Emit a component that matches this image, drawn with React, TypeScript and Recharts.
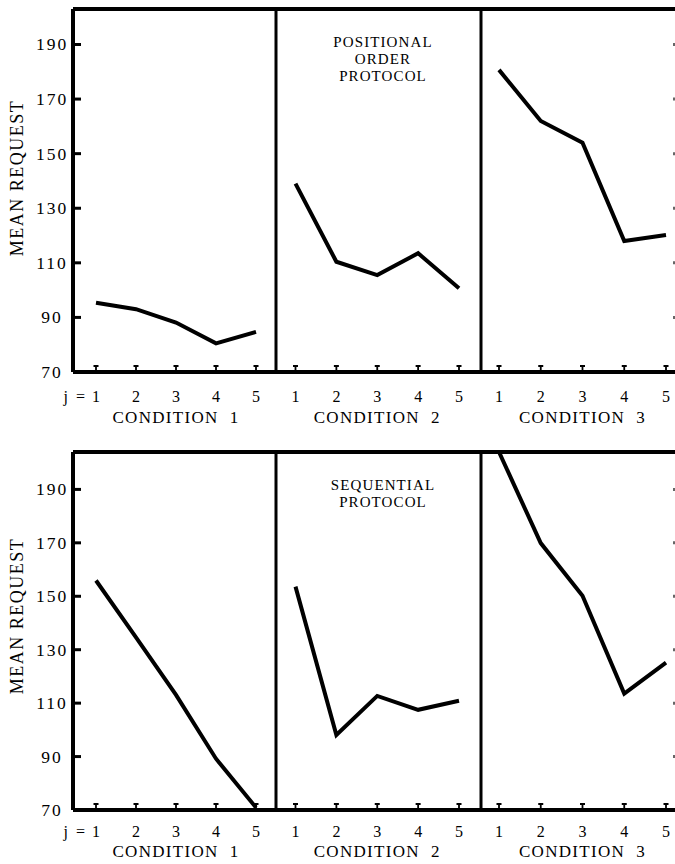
import React from 'react';
import { LineChart, Line, XAxis, YAxis } from 'recharts';

// ---- data ----
const J = [1, 2, 3, 4, 5];
const yTicks = [70, 90, 110, 130, 150, 170, 190];
const rightTicks = [90, 110, 130, 150, 170, 190];
const conditionLabels = ['CONDITION  1', 'CONDITION  2', 'CONDITION  3'];

const positionalC1 = [95.4, 93.0, 88.1, 80.5, 84.7];
const positionalC2 = [139.0, 110.4, 105.5, 113.5, 100.7];
const positionalC3 = [180.7, 162.0, 154.0, 118.0, 120.2];

const sequentialC1 = [155.9, 134.6, 113.1, 89.2, 70.9];
const sequentialC2 = [153.6, 98.1, 112.7, 107.5, 110.9];
const sequentialC3 = [204, 169.9, 150.2, 113.6, 125.2];

const positionalTitle = ['POSITIONAL', 'ORDER', 'PROTOCOL'];
const sequentialTitle = ['SEQUENTIAL', 'PROTOCOL'];
const yAxisTitle = 'MEAN REQUEST';

const FONT = '"Liberation Serif", "Times New Roman", serif';

type PanelProps = {
  values: number[];
  domainTop: number;
  plotTop: number;
  plotHeight: number;
  plotLeft: number;
  plotWidth: number;
  first?: boolean;
  last?: boolean;
  condLabel: string;
  tickDy: number;
  condDy: number;
  padL: number;
  padR: number;
};

const XTick = (props: any) => {
  const { x, y, payload, showJ, condLabel, condDy, tickDy } = props;
  return (
    <g>
      <path
        d={`M${x},${y - 2} L${x},${y - 6} M${x - 2.5},${y - 6} L${x + 2.5},${y - 6}`}
        stroke="#000"
        strokeWidth={1.8}
        fill="none"
      />
      <text x={x} y={y + tickDy} textAnchor="middle" fontFamily={FONT} fontSize={16} fill="#000">
        {payload.value}
      </text>
      {showJ && payload.value === 1 ? (
        <text x={x - 11} y={y + tickDy} textAnchor="end" fontFamily={FONT} fontSize={16} fill="#000" style={{ whiteSpace: 'pre' }}>
          {'j  ='}
        </text>
      ) : null}
      {payload.value === 3 ? (
        <text
          x={x}
          y={y + condDy}
          textAnchor="middle"
          fontFamily={FONT}
          fontSize={17}
          letterSpacing={1.3}
          fill="#000"
          style={{ whiteSpace: 'pre' }}
        >
          {condLabel}
        </text>
      ) : null}
    </g>
  );
};

const YTickLeft = (props: any) => {
  const { x, y, payload } = props;
  return (
    <g>
      {payload.value !== 70 ? (
        <line x1={x} y1={y} x2={x + 8} y2={y} stroke="#000" strokeWidth={3} />
      ) : null}
      <text x={x - 21} y={y + 6} textAnchor="middle" fontFamily={FONT} fontSize={17.5} letterSpacing={2} fill="#000">
        {payload.value}
      </text>
    </g>
  );
};

const YTickRight = (props: any) => {
  const { x, y } = props;
  return <line x1={x - 12} y1={y - 1.5} x2={x - 12} y2={y + 1.5} stroke="#333" strokeWidth={1.5} />;
};

function Panel(p: PanelProps) {
  const mTop = 8;
  const topAxisH = 1;
  const xAxisH = 60;
  const mL = p.first ? 0 : 5;
  const mR = p.last ? 5 : 0;
  const yW = p.first ? p.plotLeft : 1;
  const rW = p.last ? 1 : 0;
  const chartLeft = p.first ? 0 : p.plotLeft - mL - yW;
  const width = mL + yW + p.plotWidth + rW + mR;
  const height = mTop + topAxisH + p.plotHeight + xAxisH;
  const data = J.map((j, i) => ({ j, v: p.values[i] }));
  const domain: [number, number] = [70, p.domainTop];
  return (
    <div style={{ position: 'absolute', left: chartLeft, top: p.plotTop - mTop - topAxisH }}>
      <LineChart width={width} height={height} data={data} margin={{ top: mTop, right: mR, bottom: 0, left: mL }}>
        <XAxis
          dataKey="j"
          type="number"
          domain={[1, 5]}
          ticks={J}
          interval={0}
          padding={{ left: p.padL, right: p.padR }}
          height={xAxisH}
          axisLine={{ stroke: '#000', strokeWidth: 4 }}
          tickLine={false}
          tickSize={0}
          tickMargin={0}
          tick={<XTick showJ={p.first} condLabel={p.condLabel} condDy={p.condDy} tickDy={p.tickDy} />}
        />
        <XAxis
          xAxisId="top"
          orientation="top"
          dataKey="j"
          type="number"
          domain={[1, 5]}
          height={topAxisH}
          tick={false}
          tickLine={false}
          axisLine={{ stroke: '#000', strokeWidth: 4 }}
        />
        <YAxis
          type="number"
          domain={domain}
          ticks={yTicks}
          interval={0}
          width={yW}
          axisLine={{ stroke: '#000', strokeWidth: p.first ? 4 : 3 }}
          tickLine={false}
          tickSize={0}
          tickMargin={0}
          tick={p.first ? <YTickLeft /> : false}
          allowDataOverflow
        />
        {p.last ? (
          <YAxis
            yAxisId="r"
            orientation="right"
            type="number"
            domain={domain}
            ticks={rightTicks}
            interval={0}
            width={rW}
            axisLine={false}
            tickLine={false}
            tickSize={0}
            tickMargin={0}
            tick={<YTickRight />}
            allowDataOverflow
          />
        ) : null}
        <Line
          type="linear"
          dataKey="v"
          stroke="#000"
          strokeWidth={4}
          dot={false}
          isAnimationActive={false}
          strokeLinejoin="miter"
        />
      </LineChart>
    </div>
  );
}

function Row(props: {
  series: number[][];
  plotTop: number;
  plotHeight: number;
  domainTop: number;
  tickDy: number;
  condDy: number;
}) {
  const lefts = [73, 276, 481];
  const widths = [203, 205, 205];
  const pads = [
    [23, 20],
    [19.5, 22],
    [18, 20],
  ];
  return (
    <>
      {props.series.map((vals, i) => (
        <Panel
          key={i}
          values={vals}
          domainTop={props.domainTop}
          plotTop={props.plotTop}
          plotHeight={props.plotHeight}
          plotLeft={lefts[i]}
          plotWidth={widths[i]}
          first={i === 0}
          last={i === 2}
          condLabel={conditionLabels[i]}
          tickDy={props.tickDy}
          condDy={props.condDy}
          padL={pads[i][0]}
          padR={pads[i][1]}
        />
      ))}
    </>
  );
}

export default function App() {
  return (
    <div
      style={{
        position: 'absolute',
        left: 0,
        top: 0,
        width: 675,
        height: 864,
        overflow: 'hidden',
        background: '#fff',
      }}
    >
      <Row
        series={[positionalC1, positionalC2, positionalC3]}
        plotTop={9}
        plotHeight={363}
        domainTop={203}
        tickDy={30}
        condDy={51}
      />
      <Row
        series={[sequentialC1, sequentialC2, sequentialC3]}
        plotTop={452}
        plotHeight={358}
        domainTop={204}
        tickDy={27}
        condDy={47}
      />
      <svg width={675} height={864} style={{ position: 'absolute', left: 0, top: 0, pointerEvents: 'none' }}>
        <text
          transform="translate(23,178) rotate(-90)"
          textAnchor="middle"
          fontFamily={FONT}
          fontSize={18}
          letterSpacing={1.5}
          fill="#000"
        >
          {yAxisTitle}
        </text>
        <text
          transform="translate(23,616) rotate(-90)"
          textAnchor="middle"
          fontFamily={FONT}
          fontSize={18}
          letterSpacing={1.5}
          fill="#000"
        >
          {yAxisTitle}
        </text>
        {positionalTitle.map((t, i) => (
          <text
            key={t}
            x={383}
            y={46.5 + i * 17}
            textAnchor="middle"
            fontFamily={FONT}
            fontSize={15}
            letterSpacing={1.1}
            fill="#000"
          >
            {t}
          </text>
        ))}
        {sequentialTitle.map((t, i) => (
          <text
            key={t}
            x={383}
            y={490 + i * 17}
            textAnchor="middle"
            fontFamily={FONT}
            fontSize={15}
            letterSpacing={1.1}
            fill="#000"
          >
            {t}
          </text>
        ))}
      </svg>
    </div>
  );
}
